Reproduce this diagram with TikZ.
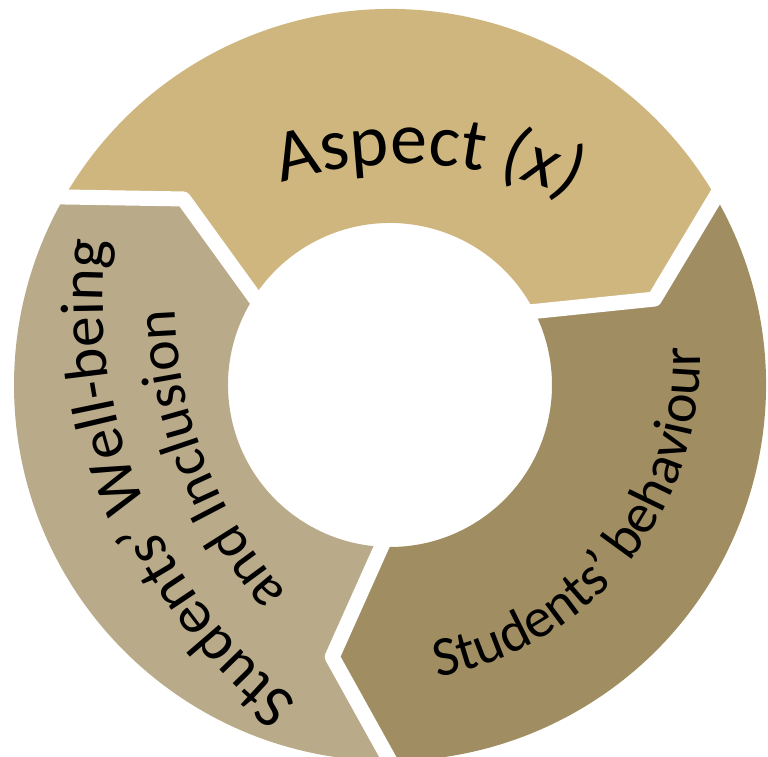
\documentclass[tikz,border=0pt]{standalone}
\usepackage{fontspec}
\setmainfont{Carlito}
\usetikzlibrary{calc, decorations.text}
\definecolor{aspectcol}{HTML}{CFB67E}
\definecolor{behavcol}{HTML}{A08E62}
\definecolor{wellcol}{HTML}{B9AA8A}
\tikzset{
	gapline/.style={draw=white, line width=1.5mm, line join=round},
	arctext/.style={decorate, decoration={text along path, text align=center, text={#1}}},
}

\begin{document}
\begin{tikzpicture}
	\useasboundingbox (0,0) rectangle (7.68,7.57);
	\coordinate (ring) at (3.9,3.72);
	\coordinate (aspc) at (4.06,1.71);
	\coordinate (behc) at (3.78,3.96);
	\coordinate (wellc) at (6.15,4.57);
	% three arrow segments of the cycle
	\begin{scope}[shift={(ring)}]
		\foreach \rot/\col in {0/aspectcol, -120/behavcol, 120/wellcol}
			\fill[\col, rotate=\rot] (150:3.76) arc[start angle=150, end angle=30, radius=3.76] -- (18:2.78) -- (27:1.62) arc[start angle=27, end angle=147, radius=1.62] -- (138:2.78) -- cycle;
		\foreach \rot in {0,-120,120}
			\draw[gapline, rotate=\rot] ($(138:2.78)!1.1!(150:3.76)$) -- (138:2.78) -- ($(138:2.78)!1.15!(147:1.62)$);
	\end{scope}
	% labels
	\path[arctext={|\fontsize{21}{25}\selectfont|Aspect |\fontsize{21}{25}\selectfont\itshape|(x)}] ($(aspc)+(122:4.22)$) arc[start angle=122, end angle=52, radius=4.22];
	\path[arctext={|\fontsize{16}{19}\selectfont|Students' behaviour}] ($(behc)+(-95:3.22)$) arc[start angle=-95, end angle=18, radius=3.22];
	\path[arctext={|\fontsize{17.5}{21}\selectfont|Students' Well-being}] ($(wellc)+(240:5.12)$) arc[start angle=240, end angle=165, radius=5.12];
	\path[arctext={|\fontsize{16.5}{20}\selectfont|and Inclusion}] ($(wellc)+(235:4.40)$) arc[start angle=235, end angle=168, radius=4.40];
\end{tikzpicture}
\end{document}
